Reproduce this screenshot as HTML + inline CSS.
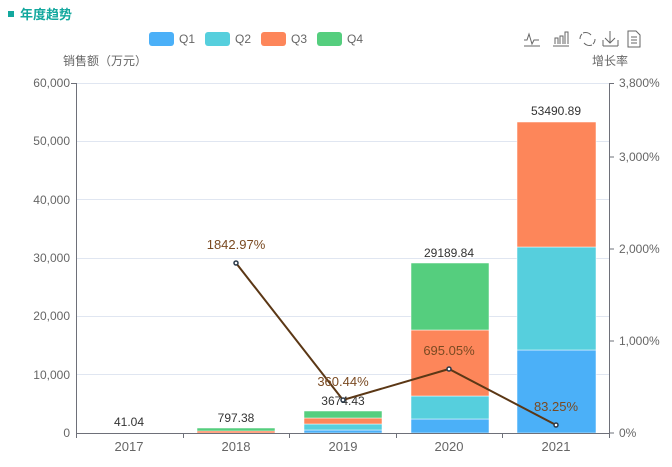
<!DOCTYPE html><html><head><meta charset="utf-8"><style>body{margin:0;background:#fff}svg{display:block;font-family:"Liberation Sans","Noto Sans CJK SC",sans-serif}</style></head><body>
<svg width="672" height="467" viewBox="0 0 672 467">
<rect x="8" y="11" width="6" height="6" fill="#13a89e"/>
<text x="20" y="19" font-size="13" font-weight="bold" fill="#13a89e">年度趋势</text>
<g font-size="12" fill="#666">
<rect x="149" y="32" width="25" height="14" rx="3" fill="#4bb0f8"/><text x="179" y="43">Q1</text>
<rect x="205" y="32" width="25" height="14" rx="3" fill="#56cfdd"/><text x="235" y="43">Q2</text>
<rect x="261" y="32" width="25" height="14" rx="3" fill="#fd865a"/><text x="291" y="43">Q3</text>
<rect x="317" y="32" width="25" height="14" rx="3" fill="#55ce7e"/><text x="347" y="43">Q4</text>
</g>
<g stroke="#666" fill="none" stroke-width="1">
<path d="M524 46h16M524 40h3l2-6 3 10 2-4h5"/>
<path d="M553 46h16M555 44v-6h3v6M560 44v-8h3v8M565 44v-12h3v12"/>
<path d="M583 33a7 7 0 0 1 8 2M592 45a7 7 0 0 1-8-2M580 39a7 7 0 0 1 2-5M595 39a7 7 0 0 1-2 5"/>
<path d="M603 46h15M603 40v6M618 40v6M610 31v12M605 38l5 5 5-5"/>
<path d="M628 31h8l4 4v12h-12zM631 37h6M631 40h6M631 43h6"/>
</g>
<g font-size="12" fill="#666">
<text x="63" y="65">销售额（万元）</text>
<text x="592" y="65">增长率</text>
</g>
<g stroke="#e0e6f1" stroke-width="1">
<line x1="76" x2="609" y1="83.5" y2="83.5"/><line x1="76" x2="609" y1="141.5" y2="141.5"/><line x1="76" x2="609" y1="199.5" y2="199.5"/><line x1="76" x2="609" y1="258.5" y2="258.5"/><line x1="76" x2="609" y1="316.5" y2="316.5"/><line x1="76" x2="609" y1="374.5" y2="374.5"/>
</g>
<g font-size="12" fill="#666" text-anchor="end">
<text x="70" y="87">60,000</text><text x="70" y="145">50,000</text><text x="70" y="204">40,000</text><text x="70" y="262">30,000</text><text x="70" y="320">20,000</text><text x="70" y="379">10,000</text><text x="70" y="437">0</text>
</g>
<g font-size="12" fill="#666">
<text x="619" y="87">3,800%</text><text x="619" y="161">3,000%</text><text x="619" y="253">2,000%</text><text x="619" y="345">1,000%</text><text x="619" y="437">0%</text>
</g>
<g stroke="#fff" stroke-width="0.5">
<rect x="197" y="430" width="78" height="3" fill="#fd865a"/><rect x="197" y="428" width="78" height="3" fill="#55ce7e"/>
<rect x="304" y="430" width="78" height="3" fill="#4bb0f8"/><rect x="304" y="424" width="78" height="6" fill="#56cfdd"/><rect x="304" y="418" width="78" height="6" fill="#fd865a"/><rect x="304" y="411" width="78" height="7" fill="#55ce7e"/>
<rect x="411" y="419" width="78" height="14" fill="#4bb0f8"/><rect x="411" y="396" width="78" height="23" fill="#56cfdd"/><rect x="411" y="330" width="78" height="66" fill="#fd865a"/><rect x="411" y="263" width="78" height="67" fill="#55ce7e"/>
<rect x="517" y="350" width="79" height="83" fill="#4bb0f8"/><rect x="517" y="247" width="79" height="103" fill="#56cfdd"/><rect x="517" y="122" width="79" height="125" fill="#fd865a"/>
</g>
<g stroke="#6e7079" stroke-width="1" fill="none">
<path d="M76.5 83v350M609.5 83v350M71 83.5h5M609 83.5h5M609 157h5M609 249h5M609 341h5M609 433h5"/>
<path d="M76 433.5h533M76.5 433v5M183.5 433v5M289.5 433v5M396.5 433v5M502.5 433v5M609.5 433v5"/>
</g>
<g font-size="13" fill="#666" text-anchor="middle">
<text x="129" y="451">2017</text><text x="236" y="451">2018</text><text x="343" y="451">2019</text><text x="449" y="451">2020</text><text x="556" y="451">2021</text>
</g>
<g font-size="12" fill="#333" text-anchor="middle">
<text x="129" y="426">41.04</text><text x="236" y="422">797.38</text><text x="343" y="405">3674.43</text><text x="449" y="257">29189.84</text><text x="556" y="115">53490.89</text>
</g>
<polyline points="236,263 343,400 449,369 556,425" fill="none" stroke="#5b3715" stroke-width="2"/>
<g fill="#fff" stroke="#2b3a4a" stroke-width="1.5">
<circle cx="236" cy="263" r="2"/><circle cx="343" cy="400" r="2"/><circle cx="449" cy="369" r="2"/><circle cx="556" cy="425" r="2"/>
</g>
<g font-size="13" fill="#7a4a22" text-anchor="middle">
<text x="236" y="249">1842.97%</text><text x="343" y="386">360.44%</text><text x="449" y="355">695.05%</text><text x="556" y="411">83.25%</text>
</g>
</svg>
</body></html>
